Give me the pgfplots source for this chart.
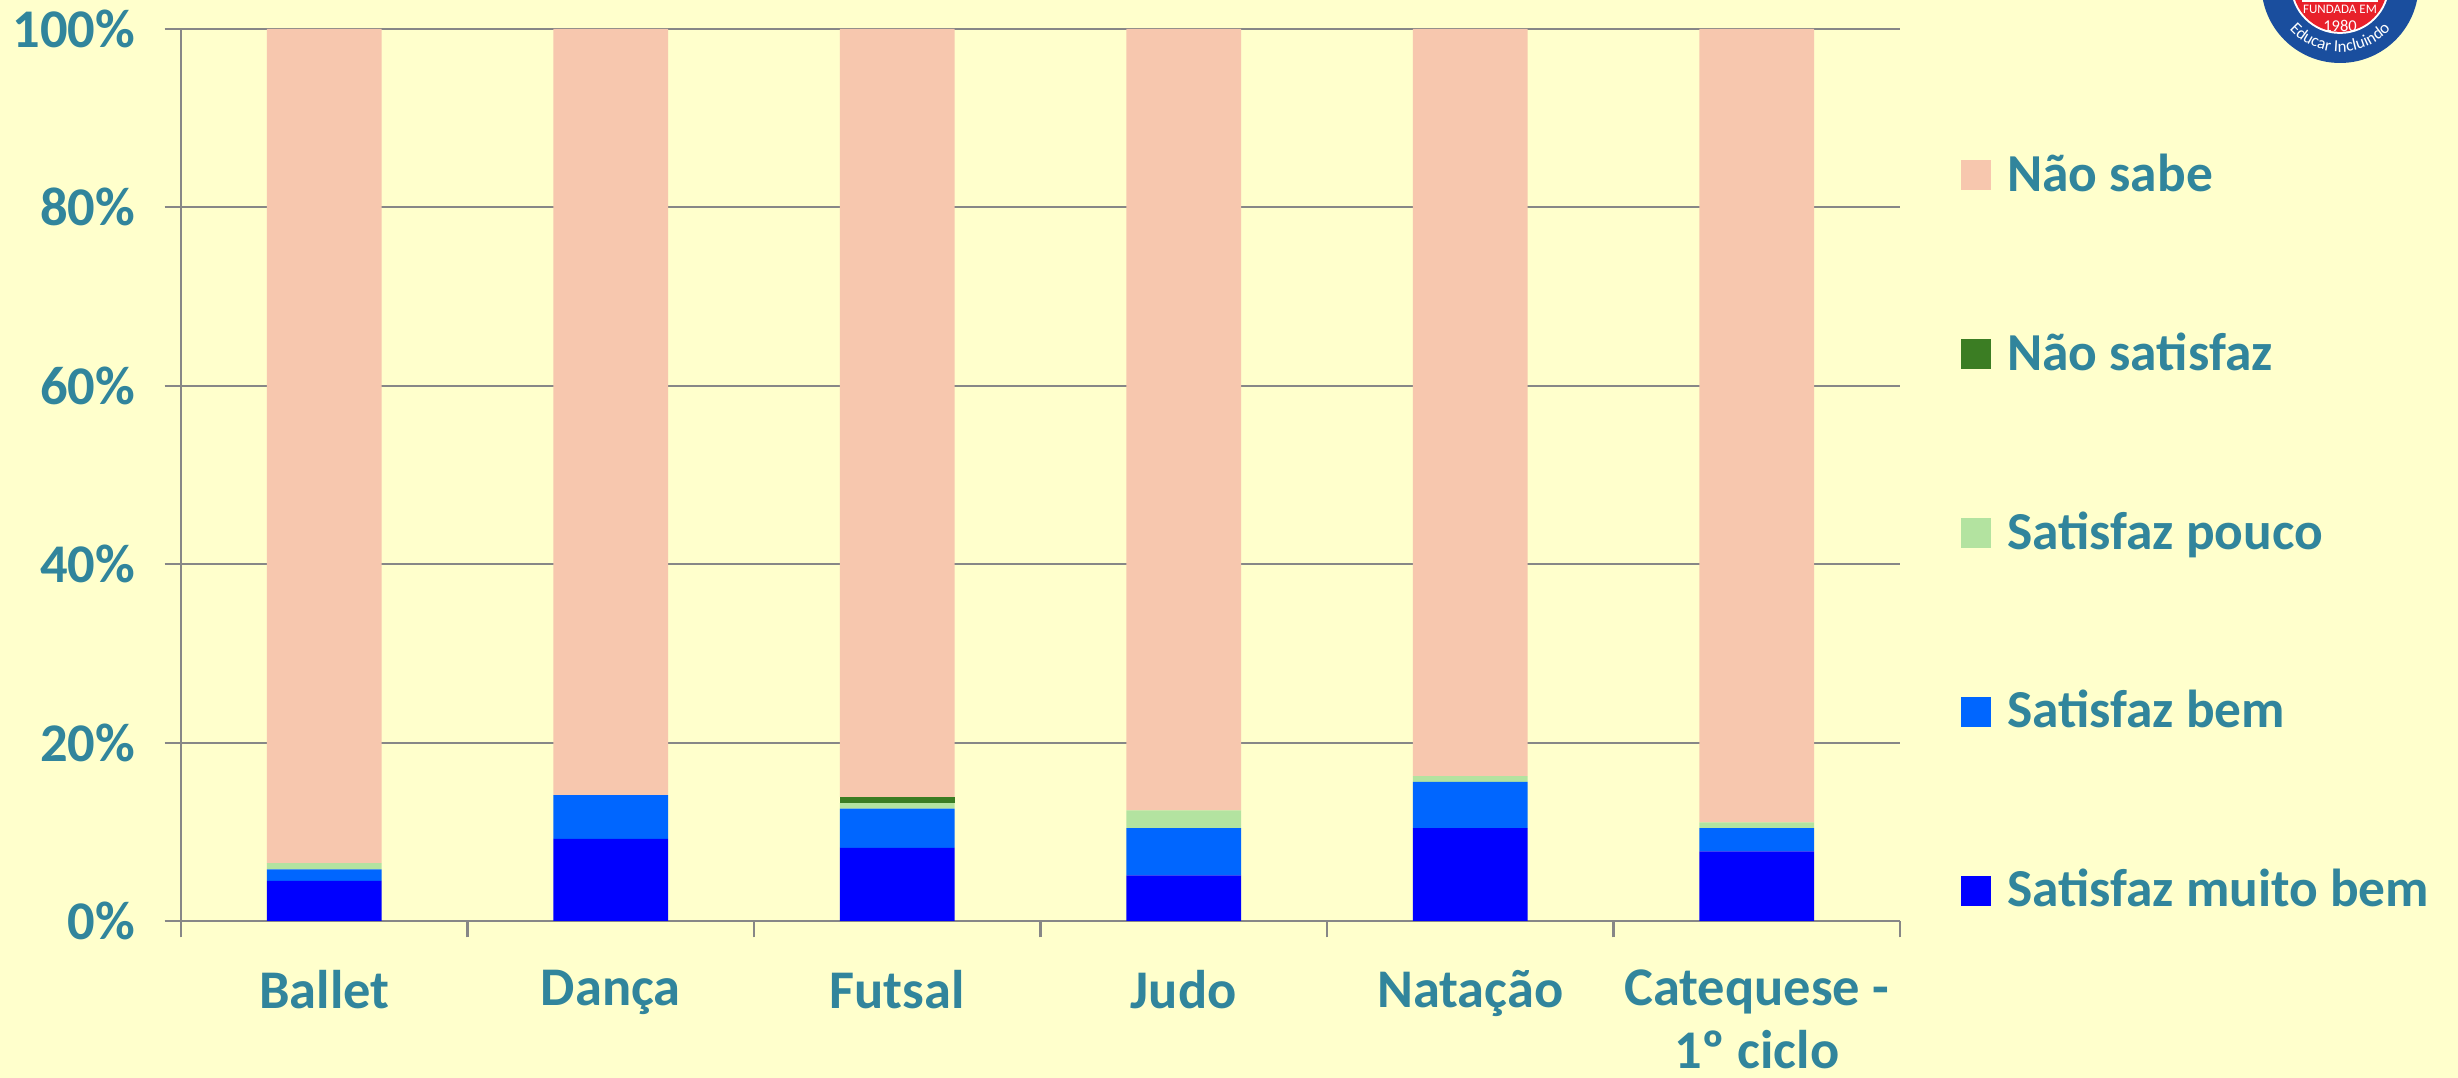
\documentclass[border=0pt]{standalone}
\usepackage{fontspec}
\setmainfont{Carlito}
\usepackage{pgfplots}
\pgfplotsset{compat=1.18}
\usetikzlibrary{decorations.text}

\definecolor{bg}{HTML}{FFFFCC}
\definecolor{txt}{HTML}{31859C}
\definecolor{axgray}{HTML}{878787}
\definecolor{nsabe}{HTML}{F7C7AE}
\definecolor{nsat}{HTML}{3B7D23}
\definecolor{spouco}{HTML}{B3E3A0}
\definecolor{sbem}{HTML}{0066FF}
\definecolor{smbem}{HTML}{0000FF}
\definecolor{logoblue}{HTML}{1A4E9E}
\definecolor{logored}{HTML}{E8202A}

\newcommand{\lbl}{\fontsize{15.5}{18}\selectfont\bfseries\color{txt}}
\newcommand{\leg}{\fontsize{15.2}{18}\selectfont\bfseries\color{txt}}

\pgfplotstableread{
cat mbem bem pouco nsat nsabe
0 4.5 1.3 0.7 0 93.5
1 9.2 4.9 0 0 85.9
2 8.2 4.4 0.6 0.7 86.1
3 5.1 5.3 2.0 0 87.6
4 10.4 5.2 0.65 0 83.75
5 7.8 2.6 0.65 0 88.95
}\survey

\begin{document}
\begin{tikzpicture}
\useasboundingbox (0,0) rectangle (245.8mm,-107.8mm);
\fill[bg] (0,0) rectangle (245.8mm,-107.8mm);

% logo, cut at the top edge
\begin{scope}
\clip (0,0) rectangle (245.8mm,-107.8mm);
\fill[logoblue] (234.0mm,1.56mm) circle (7.86mm);
\fill[white] (234.0mm,1.56mm) circle (4.95mm);
\fill[logored] (234.0mm,1.56mm) circle (4.75mm);
\draw[white,line width=0.8pt] (230.2mm,-0.05mm) -- (237.8mm,-0.05mm);
\node[white,inner sep=0pt,font=\fontsize{3.7}{4}\selectfont] at (234.0mm,-0.95mm) {FUNDADA EM};
\node[white,inner sep=0pt,font=\fontsize{4.7}{5}\selectfont] at (234.0mm,-2.6mm) {1980};
\path[decorate,decoration={text along path,text align=center,
  text={|\fontsize{4.8}{5}\selectfont\color{white}|Educar Incluindo}}]
  (234.0mm,1.56mm) ++(198:6.75mm) arc (198:342:6.75mm);
\end{scope}

\begin{axis}[
  at={(18.1mm,-2.9mm)}, anchor=north west,
  scale only axis,
  width=171.9mm, height=89.2mm,
  ybar stacked,
  bar width=0.4,
  xmin=-0.5, xmax=5.5,
  ymin=0, ymax=100,
  axis x line*=bottom,
  axis y line*=left,
  axis line style={draw=axgray, line width=0.6pt, -},
  tick align=outside,
  major tick length=1.65mm,
  tick style={draw=axgray, line width=0.6pt},
  xtick={-0.5,0.5,...,5.5},
  xticklabels={},
  extra x ticks={0,1,2,3,4,5},
  extra x tick labels={Ballet,Dança,Futsal,Judo,Natação,{Catequese -\\1º ciclo}},
  extra x tick style={tick style={draw=none}},
  xticklabel style={font=\lbl, align=center, yshift=-2mm},
  ytick={0,20,...,100},
  yticklabel={\pgfmathprintnumber{\tick}\%},
  yticklabel style={font=\lbl, xshift=-1.7mm},
  /pgf/number format/assume math mode=true,
  ymajorgrids,
  grid style={draw=axgray, line width=0.6pt},
  reverse legend,
  legend style={at={(1.0349,0.435)}, anchor=west, draw=none, fill=none,
    font=\leg, row sep=12.2mm, inner sep=0pt},
  legend cell align=left,
  every axis plot/.append style={draw=none,
    legend image code/.code={\fill[##1] (0mm,-1.5mm) rectangle (3.0mm,1.5mm);
      \path (3.95mm,0mm);}},
]
\addplot[fill=smbem] table[x=cat,y=mbem] {\survey};
\addplot[fill=sbem] table[x=cat,y=bem] {\survey};
\addplot[fill=spouco] table[x=cat,y=pouco] {\survey};
\addplot[fill=nsat] table[x=cat,y=nsat] {\survey};
\addplot[fill=nsabe] table[x=cat,y=nsabe] {\survey};
\legend{Satisfaz muito bem,Satisfaz bem,Satisfaz pouco,Não satisfaz,Não sabe}
\end{axis}
\end{tikzpicture}
\end{document}
